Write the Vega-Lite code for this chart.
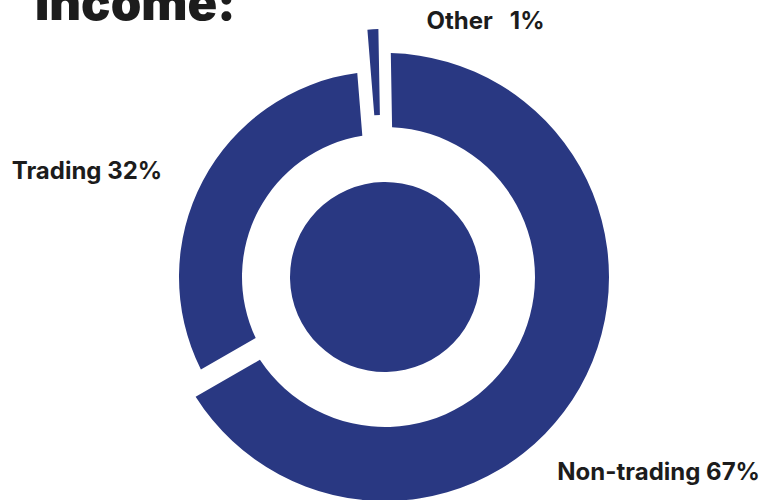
{
  "$schema": "https://vega.github.io/schema/vega-lite/v6.json",
  "width": 760,
  "height": 446,
  "autosize": {"type": "none"},
  "padding": {"left": 5, "top": 54, "right": 0, "bottom": 0},
  "background": "white",
  "title": {
    "text": "Income:",
    "anchor": "start",
    "frame": "group",
    "baseline": "alphabetic",
    "offset": -116,
    "dx": 30,
    "fontSize": 49,
    "font": "Inter",
    "fontWeight": 900,
    "color": "#1c1c1c"
  },
  "config": {"view": {"stroke": null}},
  "data": {
    "values": [
      {"category": "Non-trading", "value": 67, "label": "Non-trading 67%"},
      {"category": "Trading", "value": 32, "label": "Trading 32%"},
      {"category": "Other", "value": 1, "label": "Other\u00a0\u00a0\u00a01%"}
    ]
  },
  "transform": [
    {"stack": "value", "groupby": [], "sort": [{"field": "value", "order": "descending"}], "as": ["start", "end"]}
  ],
  "layer": [
    {
      "transform": [{"aggregate": [{"op": "sum", "field": "value", "as": "total"}]}],
      "mark": {"type": "arc", "radius": 95, "color": "#293882"},
      "encoding": {
        "theta": {"field": "total", "type": "quantitative", "stack": true, "scale": {"domain": [0, 100], "range": [-0.01745, 6.26574]}}
      }
    },
    {
      "transform": [{"filter": "datum.category === 'Non-trading'"}],
      "mark": {"type": "arc", "radius": 224, "radius2": 150, "padAngle": 0.072, "color": "#293882"},
      "encoding": {
        "theta": {"field": "start", "type": "quantitative", "stack": null, "scale": {"domain": [0, 100], "range": [-0.01745, 6.26574]}},
        "theta2": {"field": "end"}
      }
    },
    {
      "transform": [{"filter": "datum.category === 'Trading'"}],
      "mark": {"type": "arc", "radius": 206, "radius2": 143, "padAngle": 0.09, "color": "#293882"},
      "encoding": {
        "theta": {"field": "start", "type": "quantitative", "stack": null, "scale": {"domain": [0, 100], "range": [-0.01745, 6.26574]}},
        "theta2": {"field": "end"}
      }
    },
    {
      "transform": [{"filter": "datum.category === 'Other'"}],
      "mark": {"type": "arc", "radius": 248, "radius2": 162, "padAngle": 0.0155, "color": "#293882"},
      "encoding": {
        "theta": {"field": "start", "type": "quantitative", "stack": null, "scale": {"domain": [0, 100], "range": [-0.01745, 6.26574]}},
        "theta2": {"field": "end"}
      }
    },
    {
      "mark": {"type": "text", "radius": 340, "dx": -22, "dy": 28, "font": "Inter", "fontSize": 24, "fontWeight": "bold", "color": "#1c1c1c", "align": "center", "baseline": "middle"},
      "encoding": {
        "theta": {"field": "value", "type": "quantitative", "stack": true, "scale": {"domain": [0, 100], "range": [-0.01745, 6.26574]}},
        "order": {"field": "value", "sort": "descending"},
        "text": {"condition": {"test": "datum.category === 'Non-trading'", "field": "label", "type": "nominal"}, "value": ""}
      }
    },
    {
      "mark": {"type": "text", "radius": 320, "dx": -15, "dy": 44, "font": "Inter", "fontSize": 24, "fontWeight": "bold", "color": "#1c1c1c", "align": "center", "baseline": "middle"},
      "encoding": {
        "theta": {"field": "value", "type": "quantitative", "stack": true, "scale": {"domain": [0, 100], "range": [-0.01745, 6.26574]}},
        "order": {"field": "value", "sort": "descending"},
        "text": {"condition": {"test": "datum.category === 'Trading'", "field": "label", "type": "nominal"}, "value": ""}
      }
    },
    {
      "mark": {"type": "text", "radius": 257, "dx": 113, "dy": 2, "font": "Inter", "fontSize": 24, "fontWeight": "bold", "color": "#1c1c1c", "align": "center", "baseline": "middle"},
      "encoding": {
        "theta": {"field": "value", "type": "quantitative", "stack": true, "scale": {"domain": [0, 100], "range": [-0.01745, 6.26574]}},
        "order": {"field": "value", "sort": "descending"},
        "text": {"condition": {"test": "datum.category === 'Other'", "field": "label", "type": "nominal"}, "value": ""}
      }
    }
  ]
}
